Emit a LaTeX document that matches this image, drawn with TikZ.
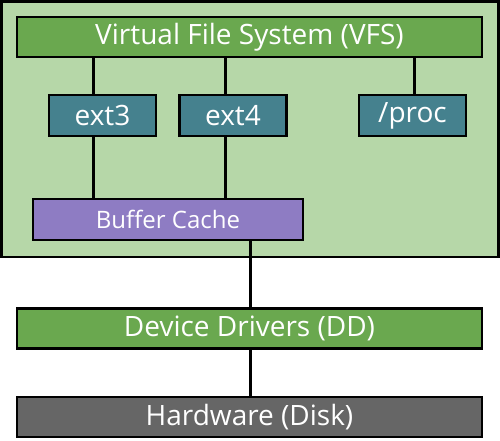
\documentclass[tikz,border=0pt]{standalone}
\usepackage{fontspec}
\setmainfont{Open Sans}
\usepackage{tikz}
\definecolor{pagegreen}{HTML}{B6D7A8}
\definecolor{layergreen}{HTML}{6AA84F}
\definecolor{fsteal}{HTML}{45818E}
\definecolor{cachepurple}{HTML}{8E7CC3}
\definecolor{diskgray}{HTML}{666666}
\tikzstyle{box}=[rectangle, draw=black, line width=2.5pt, text=white, inner sep=0pt, font=\fontsize{28}{32}\selectfont]
\tikzstyle{layer}=[box, minimum width=465pt, minimum height=40pt]
\tikzstyle{fsbox}=[box, fill=fsteal, minimum width=107pt, minimum height=41pt]
\tikzstyle{wire}=[line width=3pt]

\begin{document}
\begin{tikzpicture}[x=1pt, y=1pt, yscale=-1]
	\useasboundingbox (0,0) rectangle (500,440);
	\draw[line width=2.5pt, fill=pagegreen] (1.5,1.5) rectangle (498.5,257);
	\node[layer, fill=layergreen] (vfs) at (249.5,37) {Virtual File System (VFS)};
	\foreach \name/\x/\label in {ext3/102.5/ext3, ext4/233/ext4, proc/412.5/{/proc}}{
		\node[fsbox] (\name) at (\x,115.5) {\label};
	}
	\node[box, fill=cachepurple, minimum width=270pt, minimum height=41pt, font=\fontsize{24}{28}\selectfont] (cache) at (168,219.5) {Buffer Cache};
	\node[layer, fill=layergreen] (dd) at (249.5,328.5) {Device Drivers (DD)};
	\node[layer, fill=diskgray] (hw) at (249.5,417) {Hardware (Disk)};
	% connectors
	\foreach \fs/\x in {ext3/93, ext4/225}{
		\draw[wire] (vfs.south -| \x,0) -- (\fs.north -| \x,0);
		\draw[wire] (\fs.south -| \x,0) -- (cache.north -| \x,0);
	}
	\draw[wire] (vfs.south -| 414,0) -- (proc.north -| 414,0);
	\draw[wire] (cache.south -| 250,0) -- (dd.north -| 250,0);
	\draw[wire] (dd.south -| 250,0) -- (hw.north -| 250,0);
\end{tikzpicture}
\end{document}
